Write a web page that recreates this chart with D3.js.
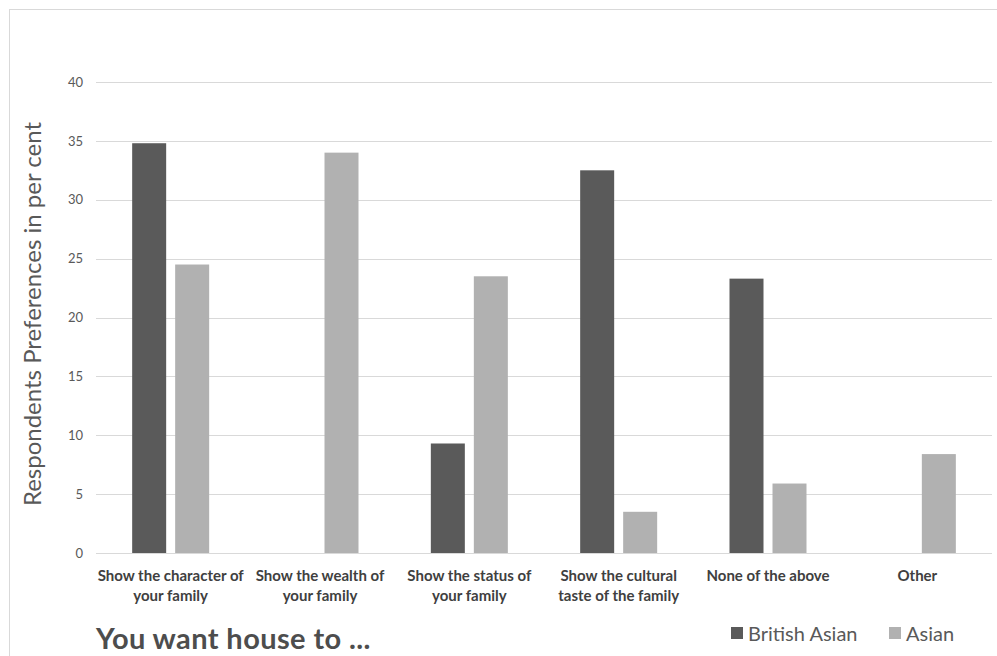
<!DOCTYPE html>
<html>
<head>
<meta charset="utf-8">
<script src="https://cdn.jsdelivr.net/npm/d3@7"></script>
<style>
  html, body { margin: 0; padding: 0; background: #fff; }
  svg { display: block; }
  text { font-family: Lato, "Open Sans", sans-serif; }
</style>
</head>
<body>
<svg id="chart" width="997" height="656"></svg>
<script>
// Survey answers to "You want house to ..."
const categories = [
  ["Show the character of", "your family"],
  ["Show the wealth of", "your family"],
  ["Show the status of", "your family"],
  ["Show the cultural", "taste of the family"],
  ["None of the above"],
  ["Other"]
];
const seriesNames = ["British Asian", "Asian"];
const britishAsian = [34.8, 0, 9.3, 32.5, 23.3, 0];
const asian = [24.5, 34, 23.5, 3.5, 5.9, 8.4];
const yTicks = [0, 5, 10, 15, 20, 25, 30, 35, 40];
const colors = ["#5a5a5a", "#b1b1b1"];

const svg = d3.select("#chart");
const plot = { left: 96, right: 992, top: 82, bottom: 553 };

// outer frame (runs off the right and bottom edges)
svg.append("rect")
  .attr("x", 9.5).attr("y", 9.5)
  .attr("width", 1100).attr("height", 800)
  .attr("fill", "none").attr("stroke", "#d9d9d9").attr("stroke-width", 1);

const x = d3.scaleBand()
  .domain(d3.range(categories.length))
  .range([plot.left, plot.right])
  .paddingInner(0).paddingOuter(0);

const y = d3.scaleLinear().domain([0, 40]).range([plot.bottom, plot.top]);

// gridlines
svg.append("g")
  .selectAll("line")
  .data(yTicks)
  .join("line")
  .attr("x1", plot.left).attr("x2", plot.right)
  .attr("y1", d => Math.round(y(d)) + 0.5).attr("y2", d => Math.round(y(d)) + 0.5)
  .attr("stroke", "#d9d9d9").attr("stroke-width", 1);

// y axis labels
const yAxis = d3.axisLeft(y).tickValues(yTicks).tickSize(0).tickPadding(0);
const gy = svg.append("g").attr("transform", `translate(83,0)`).call(yAxis);
gy.select(".domain").remove();
gy.selectAll("text")
  .attr("fill", "#595959")
  .style("font-size", "13px")
  .style("font-family", "Lato, 'Open Sans', sans-serif");

// y axis title
svg.append("text")
  .attr("transform", `translate(41,314) rotate(-90)`)
  .attr("text-anchor", "middle")
  .attr("fill", "#595959")
  .style("font-size", "24px")
  .text("Respondents Preferences in per cent");

// bars
const barW = 34, gap = 9;
const offsets = [-(gap / 2 + barW), gap / 2];
const seriesData = [britishAsian, asian];
seriesData.forEach((vals, s) => {
  svg.append("g")
    .selectAll("rect")
    .data(vals)
    .join("rect")
    .attr("x", (d, i) => x(i) + x.bandwidth() / 2 + offsets[s])
    .attr("width", barW)
    .attr("y", d => y(d))
    .attr("height", d => y(0) - y(d))
    .attr("fill", colors[s]);
});

// category labels
const xl = svg.append("g");
categories.forEach((lines, i) => {
  const t = xl.append("text")
    .attr("text-anchor", "middle")
    .attr("fill", "#404040")
    .style("font-size", "15px")
    .style("font-weight", "bold");
  lines.forEach((ln, j) => {
    t.append("tspan")
      .attr("x", x(i) + x.bandwidth() / 2)
      .attr("y", 581 + j * 20)
      .text(ln);
  });
});

// title
svg.append("text")
  .attr("x", 96).attr("y", 649)
  .attr("fill", "#4d4d4d")
  .style("font-size", "29px")
  .style("font-weight", "bold")
  .style("letter-spacing", "0.4px")
  .text("You want house to ...");

// legend
const legendX = [731, 889];
seriesNames.forEach((name, s) => {
  svg.append("rect")
    .attr("x", legendX[s]).attr("y", 627)
    .attr("width", 12).attr("height", 12)
    .attr("fill", colors[s]);
  svg.append("text")
    .attr("x", legendX[s] + 17).attr("y", 641)
    .attr("fill", "#595959")
    .style("font-size", "20px")
    .text(name);
});
</script>
</body>
</html>
